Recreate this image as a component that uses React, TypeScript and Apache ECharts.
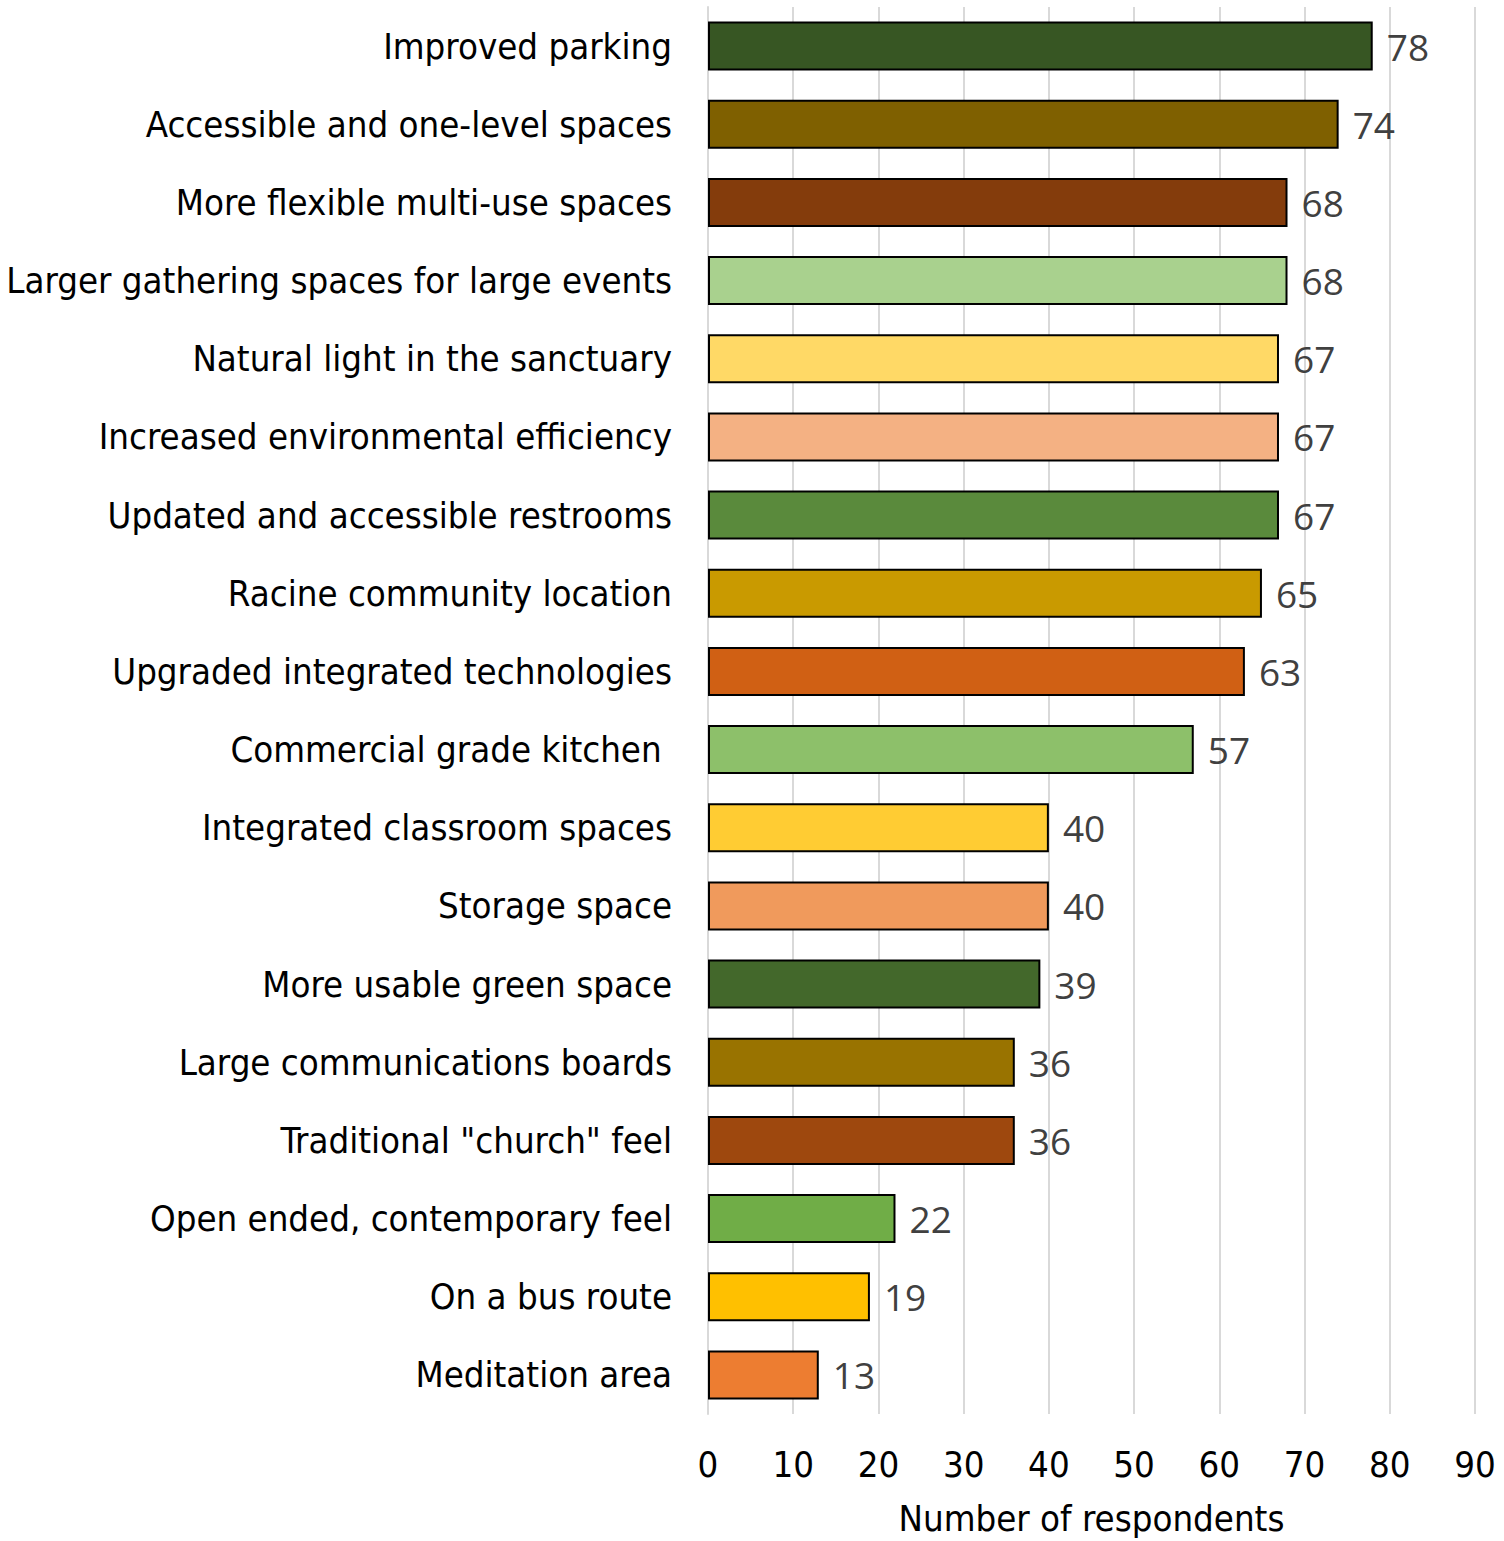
import React, { useEffect, useRef } from "react";
import * as echarts from "echarts";

const categories = [
  "Improved parking",
  "Accessible and one-level spaces",
  "More flexible multi-use spaces",
  "Larger gathering spaces for large events",
  "Natural light in the sanctuary",
  "Increased environmental efficiency",
  "Updated and accessible restrooms",
  "Racine community location",
  "Upgraded integrated technologies",
  "Commercial grade kitchen ",
  "Integrated classroom spaces",
  "Storage space",
  "More usable green space",
  "Large communications boards",
  'Traditional "church" feel',
  "Open ended, contemporary feel",
  "On a bus route",
  "Meditation area",
];

const values = [78, 74, 68, 68, 67, 67, 67, 65, 63, 57, 40, 40, 39, 36, 36, 22, 19, 13];

const barColors = [
  "#375623", "#7F6000", "#843C0C", "#A9D18E", "#FFD966", "#F4B183",
  "#5A8A3C", "#C99A00", "#D06014", "#8DC06A", "#FFCC33", "#F09A5C",
  "#43682B", "#997300", "#9E480E", "#70AD47", "#FFC000", "#ED7D31",
];

const xTicks = { min: 0, max: 90, interval: 10 };

export default function App() {
  const ref = useRef<HTMLDivElement>(null);
  useEffect(() => {
    const chart = echarts.init(ref.current!, null, { renderer: "svg" });
    const labelFont = "'DejaVu Sans Condensed', 'DejaVu Sans', Tahoma, sans-serif";
    chart.setOption({
      animation: false,
      backgroundColor: "#ffffff",
      grid: { left: 708, right: 29, top: 7, bottom: 122, containLabel: false },
      xAxis: {
        type: "value",
        min: xTicks.min,
        max: xTicks.max,
        interval: xTicks.interval,
        name: "Number of respondents",
        nameLocation: "middle",
        nameGap: 86,
        nameTextStyle: { fontFamily: labelFont, fontSize: 36.3, color: "#000" },
        axisLine: { show: false },
        axisTick: { show: false },
        axisLabel: { fontFamily: labelFont, fontSize: 36.3, color: "#000", margin: 32 },
        splitLine: { show: true, lineStyle: { color: "#d9d9d9", width: 2 } },
      },
      yAxis: {
        type: "category",
        inverse: true,
        data: categories,
        axisLine: { show: true, lineStyle: { color: "#d9d9d9", width: 2 } },
        axisTick: { show: false },
        axisLabel: { fontFamily: labelFont, fontSize: 36.3, color: "#000", margin: 36 },
      },
      series: [
        {
          type: "bar",
          data: values.map((v, i) => ({
            value: v,
            itemStyle: { color: barColors[i], borderColor: "#000", borderWidth: 2 },
          })),
          barWidth: 49,
          label: {
            show: true,
            position: "right",
            distance: 14,
            fontFamily: "'Open Sans', 'Noto Sans', sans-serif",
            fontSize: 37,
            color: "#404040",
          },
        },
      ],
    });
    return () => chart.dispose();
  }, []);
  return (
    <div
      ref={ref}
      style={{ position: "absolute", left: 0, top: 0, width: 1504, height: 1541 }}
    />
  );
}
